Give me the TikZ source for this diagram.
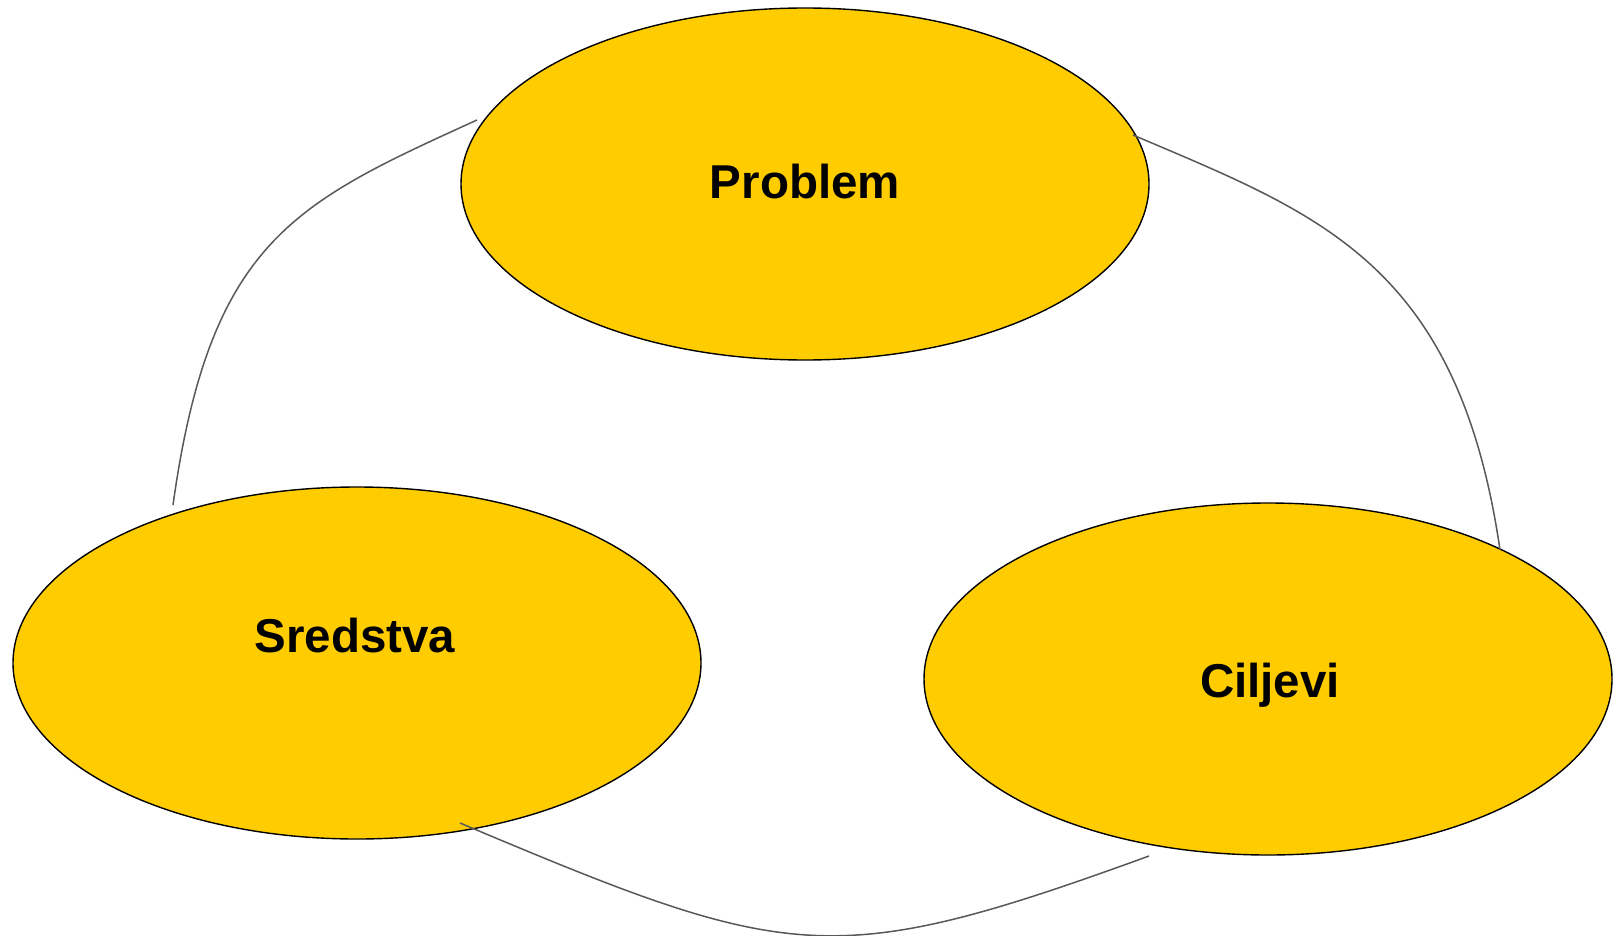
\documentclass[tikz,border=0pt]{standalone}
\usepackage{fontspec}
\setmainfont{Liberation Sans}
\usetikzlibrary{shapes.geometric}
\definecolor{gold}{HTML}{FFCC00}
\definecolor{linkgray}{HTML}{595959}
\tikzset{
  blob/.style={ellipse, draw=black, line width=1.4pt, fill=gold, minimum width=688pt, minimum height=352pt, inner sep=0pt},
  lbl/.style={anchor=base, font=\fontsize{47.5}{52}\selectfont\bfseries, text=black, inner sep=0pt},
  link/.style={draw=linkgray, line width=1.5pt}
}
\begin{document}
\begin{tikzpicture}[x=1pt, y=-1pt]
\useasboundingbox (0,0) rectangle (1621,936);
\fill[white] (0,0) rectangle (1621,936);
\node[blob] (problem) at (805,184) {};
\node[blob] (sredstva) at (357,663) {};
\node[blob] (ciljevi) at (1268,679) {};
\node[lbl] (tproblem) at (805,199) {Problem};
\node[lbl] (tsredstva) at (355,652) {Sredstva};
\node[lbl] (tciljevi) at (1270,697) {Ciljevi};
\coordinate (a1) at (477,120);
\coordinate (a2) at (173,505);
\coordinate (b1) at (1133,135);
\coordinate (b2) at (1500,550);
\coordinate (c1) at (460,823);
\coordinate (c2) at (1149,856);
\draw[link] (a1) .. controls (295,203) and (210,240) .. (a2);
\draw[link] (b1) .. controls (1318,214) and (1458,262) .. (b2);
\draw[link] (c1) .. controls (790,962) and (830,972) .. (c2);
\end{tikzpicture}
\end{document}
